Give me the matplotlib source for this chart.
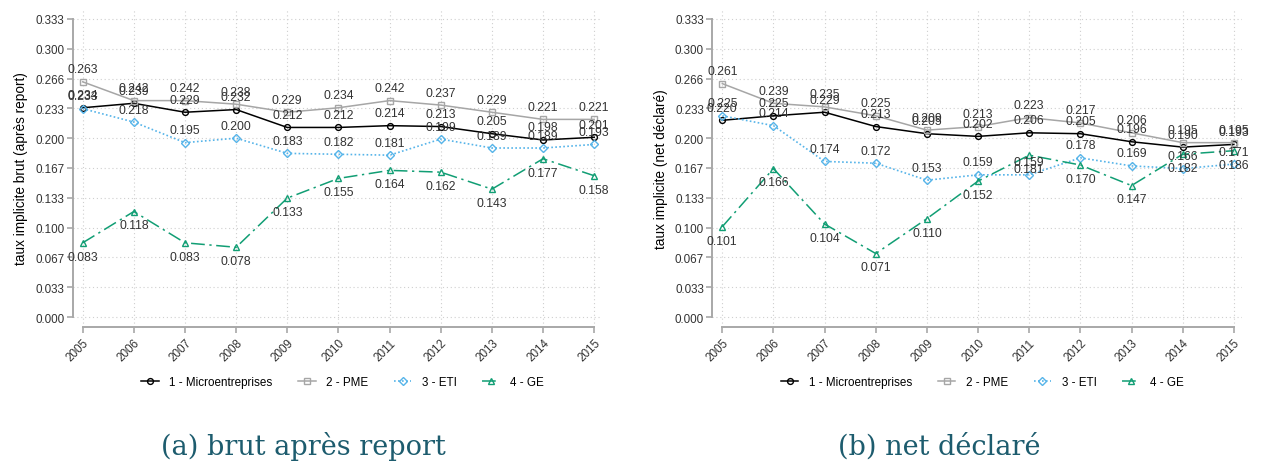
import matplotlib
matplotlib.use("Agg")
import matplotlib.pyplot as plt
import numpy as np

years = [2005, 2006, 2007, 2008, 2009, 2010, 2011, 2012, 2013, 2014, 2015]
series_names = ["1 - Microentreprises", "2 - PME", "3 - ETI", "4 - GE"]

micro_brut = [0.234, 0.239, 0.229, 0.232, 0.212, 0.212, 0.214, 0.213, 0.205, 0.198, 0.201]
pme_brut = [0.263, 0.242, 0.242, 0.238, 0.229, 0.234, 0.242, 0.237, 0.229, 0.221, 0.221]
eti_brut = [0.233, 0.218, 0.195, 0.200, 0.183, 0.182, 0.181, 0.199, 0.189, 0.189, 0.193]
ge_brut = [0.083, 0.118, 0.083, 0.078, 0.133, 0.155, 0.164, 0.162, 0.143, 0.177, 0.158]

micro_net = [0.220, 0.225, 0.229, 0.213, 0.205, 0.202, 0.206, 0.205, 0.196, 0.190, 0.193]
pme_net = [0.261, 0.239, 0.235, 0.225, 0.209, 0.213, 0.223, 0.217, 0.206, 0.195, 0.195]
eti_net = [0.225, 0.214, 0.174, 0.172, 0.153, 0.159, 0.159, 0.178, 0.169, 0.166, 0.171]
ge_net = [0.101, 0.166, 0.104, 0.071, 0.110, 0.152, 0.181, 0.170, 0.147, 0.182, 0.186]

ytick_values = [0.000, 0.0333, 0.0667, 0.100, 0.1333, 0.1667, 0.200, 0.2333, 0.2667, 0.300, 0.3333]
ytick_labels = ["0.000", "0.033", "0.067", "0.100", "0.133", "0.167", "0.200", "0.233", "0.266", "0.300", "0.333"]

ylabels = ["taux implicite brut (après report)", "taux implicite (net déclaré)"]
captions = ["(a) brut après report", "(b) net déclaré"]

plt.rcParams['font.family'] = ['Liberation Sans', 'DejaVu Sans']

styles = [
    dict(color="black", ls="-", marker="o", lw=1.1, ms=4.2, above=True),
    dict(color="#a6a6a6", ls="-", marker="s", lw=1.1, ms=4.0, above=True),
    dict(color="#56b4e9", ls=(0, (1, 1.4)), marker="D", lw=1.2, ms=3.8, above=True),
    dict(color="#119e74", ls=(0, (9, 3, 1.5, 3)), marker="^", lw=1.1, ms=4.6, above=False),
]

W, H = 1262, 464
fig = plt.figure(figsize=(W / 100, H / 100), dpi=100)

axes_left_px = [72.7, 712.3]
axes_w_px = 529.5
axes_bottom_px = 328
axes_h_px = 318
cap_x = [303, 939]

spine_col = "#a8a8a8"
txt_col = "#333333"

panels = [
    [micro_brut, pme_brut, eti_brut, ge_brut],
    [micro_net, pme_net, eti_net, ge_net],
]

for p in range(2):
    ax = fig.add_axes([axes_left_px[p] / W, (H - axes_bottom_px) / H,
                       axes_w_px / W, axes_h_px / H])
    data = panels[p]
    for s, vals in enumerate(data):
        st = styles[s]
        ax.plot(years, vals, color=st["color"], ls=st["ls"], lw=st["lw"],
                marker=st["marker"], ms=st["ms"], mfc="none", mec=st["color"],
                mew=1.0, label=series_names[s], zorder=3)
        for x, v in zip(years, vals):
            off = 9 if st["above"] else -10
            ax.annotate(f"{v:.3f}", (x, v), xytext=(0, off), textcoords="offset points",
                        ha="center", va="center", fontsize=8.7, color=txt_col, zorder=4)

    ax.set_xlim(2005 - 10 / 51.2, 2015 + 8 / 51.2)
    ax.set_ylim(-10 / 898, 0.3333 + 10 / 898)
    ax.set_yticks(ytick_values)
    ax.set_yticklabels(ytick_labels)
    ax.set_xticks(years)
    ax.set_xticklabels([str(y) for y in years], rotation=45, ha="right",
                       rotation_mode="anchor")
    ax.tick_params(axis="both", colors=spine_col, labelcolor=txt_col, labelsize=8.4,
                   length=4, width=1.2, direction="out", pad=2)
    ax.tick_params(axis="x", pad=3)
    for sp in ["top", "right"]:
        ax.spines[sp].set_visible(False)
    for sp in ["left", "bottom"]:
        ax.spines[sp].set_color(spine_col)
        ax.spines[sp].set_linewidth(1.4)
    ax.spines["left"].set_bounds(0, 0.3333)
    ax.spines["bottom"].set_bounds(2005, 2015)
    ax.grid(True, ls=(0, (1, 2.5)), color="#cfcfcf", lw=0.8)
    ax.set_axisbelow(True)
    ax.set_ylabel(ylabels[p], fontsize=9.8, color="black", labelpad=5)

    ax.legend(loc="center", bbox_to_anchor=(0.51, -0.173), ncol=4, frameon=False,
              fontsize=8.4, handlelength=1.5, columnspacing=2.2, handletextpad=0.9)

    fig.text(cap_x[p] / W, 1 - 447 / H, captions[p], ha="center", va="center",
             fontsize=19.5, color="#1d5c6e", family=["DejaVu Serif"])

fig.savefig("out.png", dpi=100)
